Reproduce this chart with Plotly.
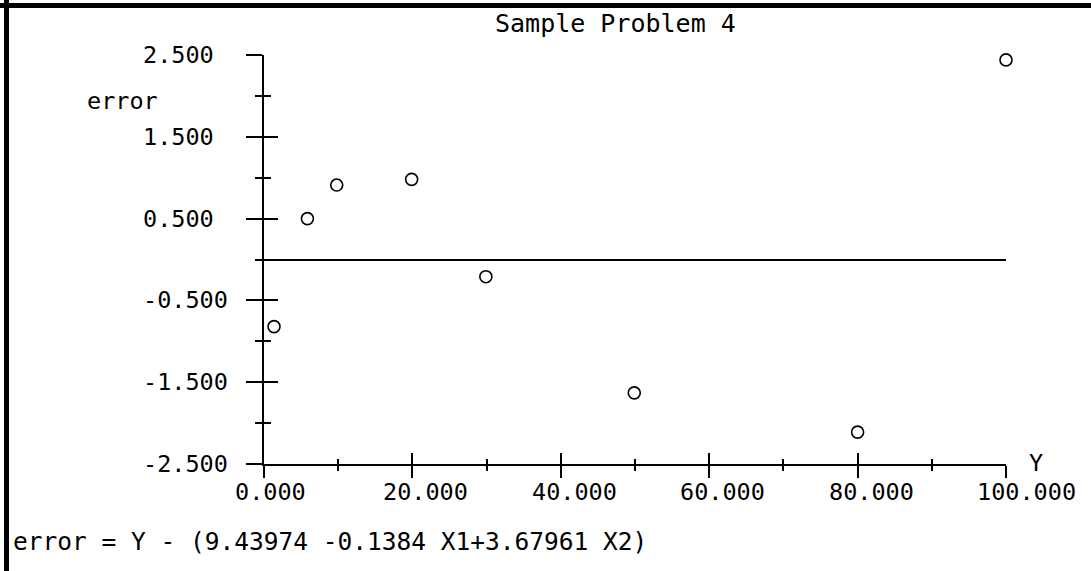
import plotly.graph_objects as go

# ---------------- data ----------------
TITLE = "Sample Problem 4"
Y_LABEL = "error"
X_LABEL = "Y"
FOOTNOTE = "error = Y - (9.43974 -0.1384 X1+3.67961 X2)"

Y_OBSERVED = [1.35, 5.85, 9.8, 19.9, 29.9, 49.9, 80.0, 100.0]
ERRORS = [-0.82, 0.50, 0.91, 0.98, -0.21, -1.63, -2.11, 2.44]

X_RANGE = [0, 100]
Y_RANGE = [-2.5, 2.5]
X_TICKS = [0, 20, 40, 60, 80, 100]
X_MINOR_TICKS = [10, 30, 50, 70, 90]
X_TICK_LABELS = ["0.000", "20.000", "40.000", "60.000", "80.000", "100.000"]
Y_TICKS = [2.5, 1.5, 0.5, -0.5, -1.5, -2.5]
Y_MINOR_TICKS = [2.0, 1.0, 0.0, -1.0, -2.0]
Y_TICK_LABELS = ["2.500", "1.500", "0.500", "-0.500", "-1.500", "-2.500"]

# ---------------- layout helpers ----------------
W, H = 1091, 571
L, R, T, B = 264, 85, 55, 107
PW, PH = W - L - R, H - T - B


def px(xp):
    return (xp - L) / PW


def py(yp):
    return (H - B - yp) / PH


FONT = dict(family="DejaVu Sans Mono", size=23.5, color="black")
BLACK = "black"

fig = go.Figure()

fig.add_trace(go.Scatter(
    x=Y_OBSERVED, y=ERRORS, mode="markers",
    marker=dict(symbol="circle-open", size=12, color=BLACK, line=dict(width=1.6, color=BLACK)),
    cliponaxis=False, showlegend=False, hoverinfo="x+y",
))
# invisible trace so that the overlaying (inside-tick) axes are drawn
fig.add_trace(go.Scatter(
    x=X_RANGE, y=Y_RANGE, xaxis="x2", yaxis="y2", mode="markers",
    marker=dict(opacity=0), showlegend=False, hoverinfo="skip",
))

common = dict(showgrid=False, showticklabels=False, tickcolor=BLACK, tickwidth=2)

fig.update_layout(
    width=W, height=H, autosize=False,
    margin=dict(l=L, r=R, t=T, b=B, pad=0),
    paper_bgcolor="white", plot_bgcolor="white",
    xaxis=dict(range=X_RANGE, showline=True, linecolor=BLACK, linewidth=2,
               ticks="outside", ticklen=12, tickmode="array", tickvals=X_TICKS,
               zeroline=False,
               minor=dict(ticks="outside", ticklen=5, tickwidth=2, tickcolor=BLACK,
                          tickmode="array", tickvals=X_MINOR_TICKS, showgrid=False),
               **common),
    xaxis2=dict(range=X_RANGE, overlaying="x", anchor="y", side="bottom",
                showline=False, ticks="inside", ticklen=11, tickmode="array",
                tickvals=X_TICKS, zeroline=False,
                minor=dict(ticks="inside", ticklen=5, tickwidth=2, tickcolor=BLACK,
                           tickmode="array", tickvals=X_MINOR_TICKS, showgrid=False),
                **common),
    yaxis=dict(range=Y_RANGE, showline=True, linecolor=BLACK, linewidth=2,
               ticks="outside", ticklen=16, tickmode="array", tickvals=Y_TICKS,
               zeroline=True, zerolinecolor=BLACK, zerolinewidth=1.6,
               minor=dict(ticks="outside", ticklen=7, tickwidth=2, tickcolor=BLACK,
                          tickmode="array", tickvals=Y_MINOR_TICKS, showgrid=False),
               **common),
    yaxis2=dict(range=Y_RANGE, overlaying="y", anchor="x", side="left",
                showline=False, ticks="inside", ticklen=14, tickmode="array",
                tickvals=Y_TICKS, zeroline=False,
                minor=dict(ticks="inside", ticklen=7, tickwidth=2, tickcolor=BLACK,
                           tickmode="array", tickvals=Y_MINOR_TICKS, showgrid=False),
                **common),
)

ann = []
# title
ann.append(dict(text=TITLE, xref="paper", yref="paper", x=px(493), y=py(24),
                xanchor="left", yanchor="middle", showarrow=False,
                font=dict(FONT, size=25)))
# y-axis name
ann.append(dict(text=Y_LABEL, xref="paper", yref="paper", x=px(85), y=py(101),
                xanchor="left", yanchor="middle", showarrow=False, font=FONT))
# x-axis name
ann.append(dict(text=X_LABEL, xref="paper", yref="paper", x=px(1027), y=py(463),
                xanchor="left", yanchor="middle", showarrow=False, font=FONT))
# footnote
ann.append(dict(text=FOOTNOTE, xref="paper", yref="paper", x=px(11), y=py(541),
                xanchor="left", yanchor="middle", showarrow=False,
                font=dict(FONT, size=24.5)))
# x tick labels (left aligned like the plotter output)
for v, t in zip(X_TICKS, X_TICK_LABELS):
    ann.append(dict(text=t, xref="x", yref="paper", x=v, y=py(492), xshift=-31,
                    xanchor="left", yanchor="middle", showarrow=False, font=FONT))
# y tick labels (left aligned)
for v, t in zip(Y_TICKS, Y_TICK_LABELS):
    ann.append(dict(text=t, xref="paper", yref="y", x=px(141), y=v,
                    xanchor="left", yanchor="middle", showarrow=False, font=FONT))
fig.update_layout(annotations=ann)

# frame lines (top and left edges)
fig.add_shape(type="line", xref="paper", yref="paper", x0=px(0), x1=px(W), y0=py(5.5), y1=py(5.5),
              line=dict(color=BLACK, width=5))
fig.add_shape(type="line", xref="paper", yref="paper", x0=px(6.5), x1=px(6.5), y0=py(0), y1=py(H),
              line=dict(color=BLACK, width=5))

fig.write_html(
    "out.html",
    config={"displayModeBar": False},
    post_script="document.body.style.margin='0';document.body.style.overflow='hidden';",
)
